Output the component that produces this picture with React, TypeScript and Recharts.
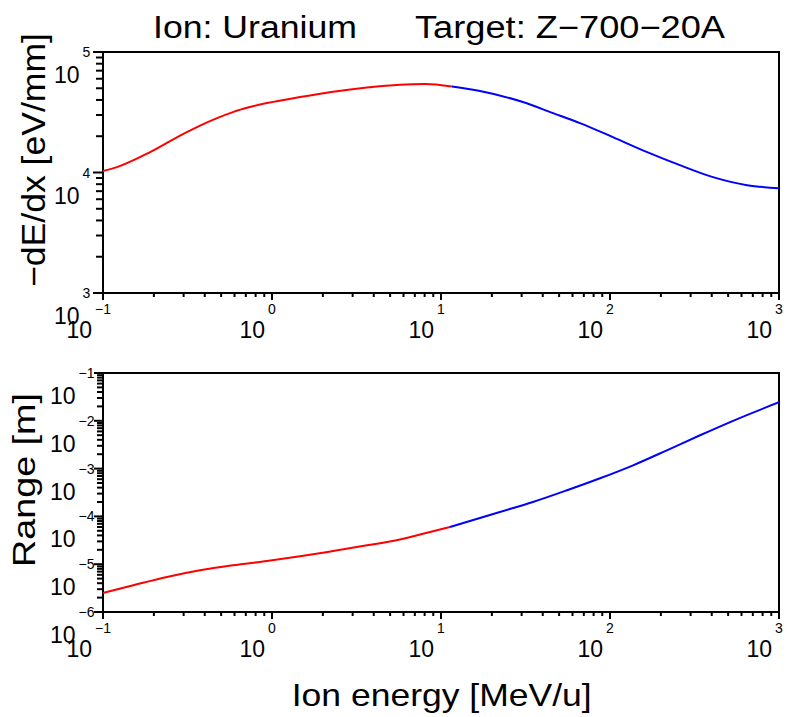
import React from 'react';
import { LineChart, Line, XAxis, YAxis, ReferenceArea } from 'recharts';

const FONT = '"Liberation Sans", Arial, Helvetica, sans-serif';

// Stopping power -dE/dx [eV/mm] vs ion energy [MeV/u]
const energyStopRed = [0.1, 0.121, 0.19, 0.297, 0.375, 0.473, 0.587, 0.741, 0.933, 1.466, 2.3, 3.65, 5.71, 8.04, 11.6];
const stoppingRed = [10260, 11080, 14760, 20830, 24510, 28290, 31730, 34920, 37690, 42280, 46790, 50700, 53500, 54200, 51700];
const energyStopBlue = [11.6, 17.0, 30.5, 46.0, 66.4, 104, 166, 259, 407, 647, 1000];
const stoppingBlue = [51700, 47400, 38430, 31120, 25700, 19660, 14760, 11510, 9150, 7850, 7410];

// Range [m] vs ion energy [MeV/u]
const energyRangeRed = [0.1, 0.151, 0.239, 0.375, 0.587, 0.933, 1.466, 2.3, 3.65, 5.71, 8.04, 11.3];
const rangeRed = [2.5e-6, 3.62e-6, 5.4e-6, 7.45e-6, 9.48e-6, 1.167e-5, 1.463e-5, 1.888e-5, 2.48e-5, 3.3e-5, 4.43e-5, 6.0e-5];
const energyRangeBlue = [11.3, 22.3, 35.0, 55.7, 87.3, 137, 217, 341, 535, 1000];
const rangeBlue = [6.0e-5, 1.236e-4, 2.0e-4, 3.52e-4, 6.27e-4, 1.172e-3, 2.41e-3, 4.98e-3, 1.0e-2, 2.44e-2];

// Axis decades (tick labels are 10^k)
const energyDecades = [-1, 0, 1, 2, 3];
const stopDecades = [3, 4, 5];
const rangeDecades = [-6, -5, -4, -3, -2, -1];

const titleIon = 'Ion: Uranium';
const titleTarget = 'Target: Z\u2212700\u221220A';
const yLabelStop = '\u2212dE/dx [eV/mm]';
const yLabelRange = 'Range [m]';
const xLabel = 'Ion energy [MeV/u]';

function logTicks(decades: number[]) {
  const out: number[] = [];
  for (let i = 0; i < decades.length; i++) {
    const base = Math.pow(10, decades[i]);
    out.push(base);
    if (i < decades.length - 1) for (let m = 2; m <= 9; m++) out.push(m * base);
  }
  return out;
}

const isMajor = (v: number) => {
  const l = Math.log10(v);
  return Math.abs(l - Math.round(l)) < 1e-6;
};
const expText = (v: number) => {
  const e = Math.round(Math.log10(v));
  return e < 0 ? '\u2212' + Math.abs(e) : String(e);
};
const EXP_SIZE = 14;
const BASE_SIZE = 23;
const expWidth = (s: string) => {
  let w = 0;
  for (const c of s) w += c === '\u2212' ? 0.584 * EXP_SIZE : 0.556 * EXP_SIZE;
  return w;
};

const XTick = (props: any) => {
  const { x, y, payload } = props;
  const v = payload.value;
  const major = isMajor(v);
  const ex = expText(v);
  const w = expWidth(ex);
  return (
    <g>
      <line x1={x} y1={y} x2={x} y2={y + (major ? 7 : 4)} stroke="#000" strokeWidth={2} />
      {major && (
        <text x={x} y={y + 21} textAnchor="middle" fontSize={EXP_SIZE} fontFamily={FONT} fill="#000">{ex}</text>
      )}
      {major && (
        <text x={x - w / 2 - 3} y={y + 45} textAnchor="end" fontSize={BASE_SIZE} fontFamily={FONT} fill="#000">10</text>
      )}
    </g>
  );
};

const makeYTick = (majorLen: number, minorLen: number) => (props: any) => {
  const { x, y, payload } = props;
  const v = payload.value;
  const major = isMajor(v);
  const ex = expText(v);
  const w = expWidth(ex);
  const cx = x - 16.5;
  return (
    <g>
      <line x1={x - (major ? majorLen : minorLen)} y1={y} x2={x} y2={y} stroke="#000" strokeWidth={2} />
      {major && (
        <text x={cx} y={y + 5} textAnchor="middle" fontSize={EXP_SIZE} fontFamily={FONT} fill="#000">{ex}</text>
      )}
      {major && (
        <text x={cx - w / 2 - 3} y={y + 31} textAnchor="end" fontSize={BASE_SIZE} fontFamily={FONT} fill="#000">10</text>
      )}
    </g>
  );
};

const stopRedData = energyStopRed.map((e, i) => ({ e, v: stoppingRed[i] }));
const stopBlueData = energyStopBlue.map((e, i) => ({ e, v: stoppingBlue[i] }));
const rangeRedData = energyRangeRed.map((e, i) => ({ e, v: rangeRed[i] }));
const rangeBlueData = energyRangeBlue.map((e, i) => ({ e, v: rangeBlue[i] }));

const xTicks = logTicks(energyDecades);
const xDomain = [Math.pow(10, energyDecades[0]), Math.pow(10, energyDecades[energyDecades.length - 1])];
const stopTicks = logTicks(stopDecades);
const stopDomain = [Math.pow(10, stopDecades[0]), Math.pow(10, stopDecades[stopDecades.length - 1])];
const rangeTicks = logTicks(rangeDecades);
const rangeDomain = [Math.pow(10, rangeDecades[0]), Math.pow(10, rangeDecades[rangeDecades.length - 1])];

const StopTick = makeYTick(10, 7);
const RangeTick = makeYTick(9, 6);

export default function App() {
  return (
    <div style={{ position: 'absolute', left: 0, top: 0, width: 787, height: 717, background: '#fff' }}>
      <div style={{ position: 'absolute', left: 0, top: 0 }}>
        <LineChart width={787} height={350} margin={{ top: 52, right: 8, bottom: 0, left: 0 }}>
          <XAxis
            dataKey="e"
            type="number"
            scale="log"
            domain={xDomain}
            allowDataOverflow
            ticks={xTicks}
            interval={0}
            tick={XTick}
            tickSize={0}
            tickMargin={0}
            tickLine={false}
            axisLine={false}
            height={57}
          />
          <YAxis
            type="number"
            scale="log"
            domain={stopDomain}
            allowDataOverflow
            ticks={stopTicks}
            interval={0}
            tick={StopTick}
            tickSize={0}
            tickMargin={0}
            tickLine={false}
            axisLine={false}
            width={103}
          />
          <ReferenceArea
            x1={xDomain[0]}
            x2={xDomain[1]}
            y1={stopDomain[0]}
            y2={stopDomain[1]}
            fill="#fff"
            fillOpacity={0}
            stroke="#000"
            strokeWidth={2}
            ifOverflow="visible"
          />
          <Line data={stopRedData} dataKey="v" type="monotone" stroke="#ff0000" strokeWidth={2} dot={false} isAnimationActive={false} />
          <Line data={stopBlueData} dataKey="v" type="monotone" stroke="#0000ff" strokeWidth={2} dot={false} isAnimationActive={false} />
        </LineChart>
      </div>
      <div style={{ position: 'absolute', left: 0, top: 350 }}>
        <LineChart width={787} height={367} margin={{ top: 23, right: 8, bottom: 0, left: 0 }}>
          <XAxis
            dataKey="e"
            type="number"
            scale="log"
            domain={xDomain}
            allowDataOverflow
            ticks={xTicks}
            interval={0}
            tick={XTick}
            tickSize={0}
            tickMargin={0}
            tickLine={false}
            axisLine={false}
            height={105}
          />
          <YAxis
            type="number"
            scale="log"
            domain={rangeDomain}
            allowDataOverflow
            ticks={rangeTicks}
            interval={0}
            tick={RangeTick}
            tickSize={0}
            tickMargin={0}
            tickLine={false}
            axisLine={false}
            width={103}
          />
          <ReferenceArea
            x1={xDomain[0]}
            x2={xDomain[1]}
            y1={rangeDomain[0]}
            y2={rangeDomain[1]}
            fill="#fff"
            fillOpacity={0}
            stroke="#000"
            strokeWidth={2}
            ifOverflow="visible"
          />
          <Line data={rangeRedData} dataKey="v" type="monotone" stroke="#ff0000" strokeWidth={2} dot={false} isAnimationActive={false} />
          <Line data={rangeBlueData} dataKey="v" type="monotone" stroke="#0000ff" strokeWidth={2} dot={false} isAnimationActive={false} />
        </LineChart>
      </div>
      <svg width={787} height={717} style={{ position: 'absolute', left: 0, top: 0, pointerEvents: 'none' }}>
        <text x={153} y={38} fontSize={31} fontFamily={FONT} fill="#000" textLength={204} lengthAdjust="spacingAndGlyphs">{titleIon}</text>
        <text x={415} y={38} fontSize={31} fontFamily={FONT} fill="#000" textLength={310} lengthAdjust="spacingAndGlyphs">{titleTarget}</text>
        <text transform="translate(45,160) rotate(-90)" x={0} y={0} textAnchor="middle" fontSize={33} fontFamily={FONT} fill="#000" textLength={254} lengthAdjust="spacingAndGlyphs">{yLabelStop}</text>
        <text transform="translate(35,480) rotate(-90)" x={0} y={0} textAnchor="middle" fontSize={31} fontFamily={FONT} fill="#000" textLength={174} lengthAdjust="spacingAndGlyphs">{yLabelRange}</text>
        <text x={441.7} y={706} textAnchor="middle" fontSize={32} fontFamily={FONT} fill="#000" textLength={300} lengthAdjust="spacingAndGlyphs">{xLabel}</text>
      </svg>
    </div>
  );
}
